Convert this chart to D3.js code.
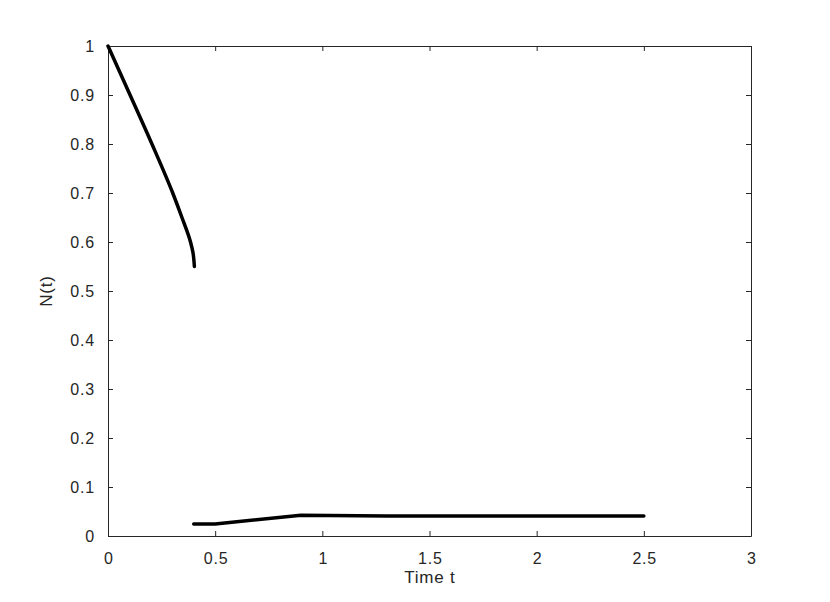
<!DOCTYPE html>
<html lang="en">
<head>
    <meta charset="UTF-8">
    <title>N(t)</title>
    <script src="https://d3js.org/d3.v7.min.js"></script>
    <style>
        body { margin: 0; background: #fff; }
        text { font-family: "Liberation Sans", Arial, sans-serif; fill: #262626; }
    </style>
</head>
<body>
    <div class="svg-container"></div>
    <script>

        // first branch, starts at N=1
        const branch1T = [0, 0.103, 0.205, 0.302, 0.345, 0.385, 0.397, 0.403]
        const branch1N = [1, 0.90, 0.80, 0.70, 0.65, 0.60, 0.577, 0.550]

        // second branch, near zero
        const branch2T = [0.400, 0.5, 0.9, 1.3, 2.5]
        const branch2N = [0.0245, 0.0245, 0.0425, 0.041, 0.0408]

        const xTicks = [0, 0.5, 1, 1.5, 2, 2.5, 3]
        const yTicks = [0, 0.1, 0.2, 0.3, 0.4, 0.5, 0.6, 0.7, 0.8, 0.9, 1]

        const margin = { top: 46, right: 79, bottom: 66, left: 108 }
        const width = 830 - margin.left - margin.right
        const height = 602 - margin.top - margin.bottom

        const svg = d3.select(".svg-container")
          .append("svg")
            .attr("width", 830)
            .attr("height", 602)
          .append("g")
            .attr("transform", "translate(" + margin.left + "," + margin.top + ")")

        const x = d3.scaleLinear().domain([0, 3]).range([0, width])
        const y = d3.scaleLinear().domain([0, 1]).range([height, 0])

        const fmt = d => d3.format("~g")(d)

        // axes, ticks pointing inward on all four sides
        const gx = svg.append("g")
            .attr("transform", "translate(0," + height + ")")
            .call(d3.axisBottom(x).tickValues(xTicks).tickFormat(fmt)
                .tickSizeInner(-5).tickSizeOuter(0).tickPadding(17))
        const gy = svg.append("g")
            .call(d3.axisLeft(y).tickValues(yTicks).tickFormat(fmt)
                .tickSizeInner(-5).tickSizeOuter(0).tickPadding(13))
        const gt = svg.append("g")
            .call(d3.axisTop(x).tickValues(xTicks).tickFormat("")
                .tickSizeInner(-5).tickSizeOuter(0))
        const gr = svg.append("g")
            .attr("transform", "translate(" + width + ",0)")
            .call(d3.axisRight(y).tickValues(yTicks).tickFormat("")
                .tickSizeInner(-5).tickSizeOuter(0))

        svg.selectAll(".domain").attr("stroke", "#262626")
        svg.selectAll(".tick line").attr("stroke", "#262626")
        svg.selectAll(".tick text")
            .style("font-size", "16px")
            .style("letter-spacing", "0.8px")
            .style("font-family", "'Liberation Sans', Arial, sans-serif")
            .attr("fill", "#262626")
        gx.selectAll(".tick text").attr("dx", 0.4)

        svg.append("path")
            .datum(d3.zip(branch1T, branch1N))
            .attr("d", d3.line().x(d => x(d[0])).y(d => y(d[1])).curve(d3.curveMonotoneY))
            .attr("fill", "none")
            .attr("stroke", "#000")
            .attr("stroke-width", 3.5)
            .attr("stroke-linecap", "round")
            .attr("stroke-linejoin", "round")

        svg.append("path")
            .datum(d3.zip(branch2T, branch2N))
            .attr("d", d3.line().x(d => x(d[0])).y(d => y(d[1])))
            .attr("fill", "none")
            .attr("stroke", "#000")
            .attr("stroke-width", 3.5)
            .attr("stroke-linecap", "round")
            .attr("stroke-linejoin", "round")

        svg.append("text")
            .attr("x", width / 2)
            .attr("y", height + 47)
            .attr("dx", 0.4)
            .attr("text-anchor", "middle")
            .style("font-size", "17px")
            .style("letter-spacing", "0.8px")
            .text("Time t")

        svg.append("text")
            .attr("transform", "translate(" + (-56) + "," + (height / 2) + ")rotate(-90)")
            .attr("text-anchor", "middle")
            .style("font-size", "17px")
            .style("letter-spacing", "0.8px")
            .text("N(t)")

    </script>
</body>
</html>
